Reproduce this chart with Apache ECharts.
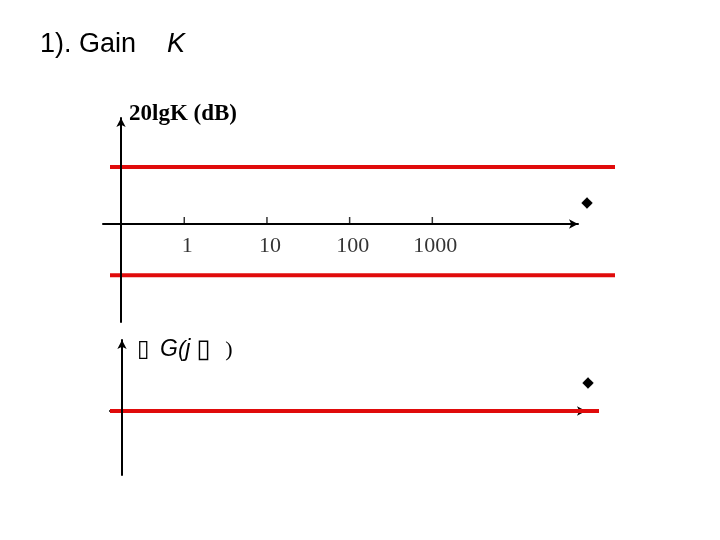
<!DOCTYPE html>
<html><head><meta charset="utf-8">
<script src="https://cdn.jsdelivr.net/npm/echarts@6/dist/echarts.min.js"></script>
<style>html,body{margin:0;padding:0;background:#fff}#c{width:720px;height:540px}</style>
</head><body><div id="c"></div>
<script>
// ---- data ----
const freqTicks = [1, 10, 100, 1000];          // ω tick values (log axis)
const tickLabels = ['1', '10', '100', '1000'];
const gainDB = [20, -18];                       // 20lgK for K>1 and K<1 (dB)
const gainSpan = [0.127, 162000];               // ω range covered by gain lines
const phaseDeg = [0];                           // ∠G(jω) of a pure gain (deg)
const phaseSpan = [0.127, 104000];              // ω range covered by phase line

const RED = '#e00b0b';
const chart = echarts.init(document.getElementById('c'));

const axisLineStyle = {color: '#000', width: 2};
function xAx(grid, min, max, gap, up) {
  return {
    type: 'log', logBase: 10, gridIndex: grid, min: min, max: max,
    axisLine: {show: true, onZero: true, symbol: ['none', 'arrow'], symbolSize: [7, 9], lineStyle: axisLineStyle},
    axisTick: {show: false}, axisLabel: {show: false}, splitLine: {show: false},
    name: '{d|\u25C6}', nameLocation: 'end', nameGap: gap,
    nameTextStyle: {align: 'center', verticalAlign: 'bottom',
      rich: {d: {fontSize: 15, color: '#000', fontFamily: 'DejaVu Sans', lineHeight: up}}}
  };
}
function hiddenX(grid, min, max) {
  return {type: 'log', logBase: 10, gridIndex: grid, min: min, max: max, show: false};
}
function hiddenY(grid, min, max) {
  return {type: 'value', gridIndex: grid, min: min, max: max, show: false};
}

const series = [];
gainDB.forEach(function (g) {
  series.push({type: 'line', xAxisIndex: 2, yAxisIndex: 2, symbol: 'none', silent: true,
    lineStyle: {color: RED, width: 4}, data: gainSpan.map(function (w) { return [w, g]; })});
});
phaseDeg.forEach(function (p) {
  series.push({type: 'line', xAxisIndex: 3, yAxisIndex: 3, symbol: 'none', silent: true,
    lineStyle: {color: RED, width: 4}, data: phaseSpan.map(function (w) { return [w, p]; })});
});
series.push({
  type: 'scatter', xAxisIndex: 0, yAxisIndex: 0, clip: false, silent: true,
  symbol: 'rect', symbolSize: [1.5, 7], symbolOffset: [0, -3.5],
  itemStyle: {color: '#000'},
  label: {show: true, position: 'inside', offset: [3, 26], color: '#000',
    fontFamily: 'Liberation Serif', fontSize: 22,
    formatter: function (p) { return tickLabels[p.dataIndex]; }},
  data: freqTicks.map(function (w) { return [w, 0]; })
});

const Y0 = [-34.4, 37.2], Y1 = [-81.1, 90];

chart.setOption({
  animation: false,
  backgroundColor: '#fff',
  title: {
    left: 40, top: 31, padding: 0,
    text: '{a|1). Gain}{k|K}',
    textStyle: {fontWeight: 'normal', rich: {
      a: {fontFamily: 'Liberation Sans', fontWeight: 'normal', fontSize: 27, color: '#000'},
      k: {fontFamily: 'Liberation Sans', fontWeight: 'normal', fontSize: 27, fontStyle: 'italic', color: '#000', padding: [0, 0, 0, 31]}
    }}
  },
  grid: [
    {left: 103, top: 118, width: 475, height: 204},
    {left: 110, top: 340, width: 476, height: 135},
    {left: 110, top: 118, width: 505, height: 204},
    {left: 110, top: 340, width: 489, height: 135}
  ],
  xAxis: [
    xAx(0, 0.104, 57800, 9, 42),
    xAx(1, 0.127, 72100, 2, 56),
    hiddenX(2, gainSpan[0], gainSpan[1]),
    hiddenX(3, phaseSpan[0], phaseSpan[1])
  ],
  yAxis: [
    {type: 'value', gridIndex: 0, min: Y0[0], max: Y0[1], offset: -18, z: 5,
      axisLine: {show: true, onZero: false, symbol: ['none', 'arrow'], symbolSize: [7, 9], lineStyle: axisLineStyle},
      axisTick: {show: false}, axisLabel: {show: false}, splitLine: {show: false},
      name: '20lgK (dB)', nameLocation: 'end', nameGap: 4,
      nameTextStyle: {fontFamily: 'Liberation Serif', fontWeight: 'bold', fontSize: 23, color: '#000',
        align: 'left', verticalAlign: 'middle', padding: [0, 0, 0, 8]}},
    {type: 'value', gridIndex: 1, min: Y1[0], max: Y1[1], offset: -12, z: 5,
      axisLine: {show: true, onZero: false, symbol: ['none', 'arrow'], symbolSize: [7, 9], lineStyle: axisLineStyle},
      axisTick: {show: false}, axisLabel: {show: false}, splitLine: {show: false},
      name: '{b|\u25AF}{g|G}{p|(}{g|j}{q|\u25AF}{s|)}', nameLocation: 'end', nameGap: -10,
      nameTextStyle: {align: 'left', verticalAlign: 'middle', padding: [0, 0, 0, 15],
        rich: {
          b: {fontFamily: 'DejaVu Sans', fontSize: 23, color: '#000', width: 23},
          g: {fontFamily: 'Liberation Sans', fontStyle: 'italic', fontSize: 23, color: '#000'},
          p: {fontFamily: 'Liberation Sans', fontStyle: 'italic', fontSize: 22, color: '#000'},
          q: {fontFamily: 'DejaVu Sans', fontStyle: 'italic', fontSize: 26, color: '#000', width: 29, padding: [0, 0, 0, 6]},
          s: {fontFamily: 'Liberation Serif', fontSize: 22, color: '#000'}
        }}},
    hiddenY(2, Y0[0], Y0[1]),
    hiddenY(3, Y1[0], Y1[1])
  ],
  series: series
});
</script></body></html>
